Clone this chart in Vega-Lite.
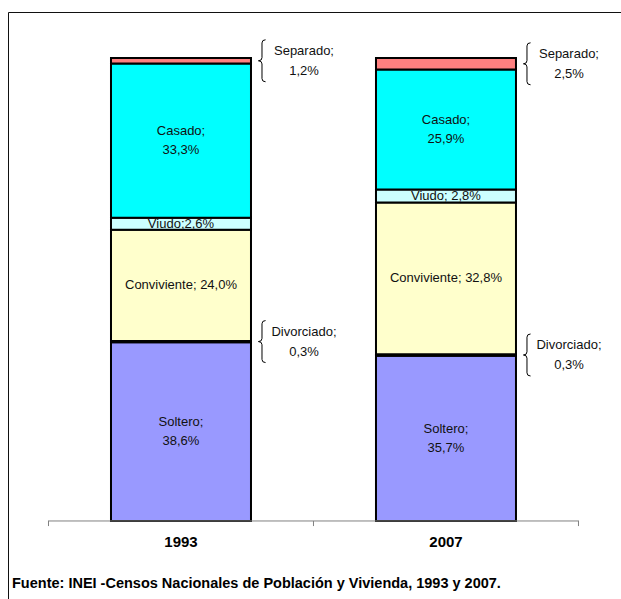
{
  "$schema": "https://vega.github.io/schema/vega-lite/v6.json",
  "width": 620,
  "height": 600,
  "autosize": {"type": "none"},
  "padding": {"left": 8, "top": 12, "right": 0, "bottom": 0},
  "background": "white",
  "config": {
    "view": {"stroke": "#111", "strokeWidth": 1},
    "font": "Liberation Sans Narrow, Arial Narrow, Liberation Sans, sans-serif"
  },
  "title": {
    "text": "Fuente: INEI -Censos Nacionales de Población y Vivienda,  1993 y 2007.",
    "orient": "bottom",
    "anchor": "start",
    "frame": "group",
    "offset": -35,
    "dx": 4,
    "fontSize": 14.5,
    "fontWeight": "bold",
    "color": "#000"
  },
  "data": {
    "values": [
      {"year": "1993", "cat": "Soltero", "pct": 38.6, "orden": 1, "label": "Soltero;\n38,6%", "kind": "in2"},
      {"year": "1993", "cat": "Divorciado", "pct": 0.3, "orden": 2, "label": "Divorciado;\n0,3%", "kind": "out"},
      {"year": "1993", "cat": "Conviviente", "pct": 24.0, "orden": 3, "label": "Conviviente; 24,0%", "kind": "in1"},
      {"year": "1993", "cat": "Viudo", "pct": 2.6, "orden": 4, "label": "Viudo;2,6%", "kind": "in1"},
      {"year": "1993", "cat": "Casado", "pct": 33.3, "orden": 5, "label": "Casado;\n33,3%", "kind": "in2"},
      {"year": "1993", "cat": "Separado", "pct": 1.2, "orden": 6, "label": "Separado;\n1,2%", "kind": "out"},
      {"year": "2007", "cat": "Soltero", "pct": 35.7, "orden": 1, "label": "Soltero;\n35,7%", "kind": "in2"},
      {"year": "2007", "cat": "Divorciado", "pct": 0.3, "orden": 2, "label": "Divorciado;\n0,3%", "kind": "out"},
      {"year": "2007", "cat": "Conviviente", "pct": 32.8, "orden": 3, "label": "Conviviente; 32,8%", "kind": "in1"},
      {"year": "2007", "cat": "Viudo", "pct": 2.8, "orden": 4, "label": "Viudo; 2,8%", "kind": "in1"},
      {"year": "2007", "cat": "Casado", "pct": 25.9, "orden": 5, "label": "Casado;\n25,9%", "kind": "in2"},
      {"year": "2007", "cat": "Separado", "pct": 2.5, "orden": 6, "label": "Separado;\n2,5%", "kind": "out"}
    ]
  },
  "transform": [
    {"stack": "pct", "groupby": ["year"], "sort": [{"field": "orden", "order": "ascending"}], "as": ["y0", "y1"]},
    {"calculate": "(datum.y0 + datum.y1) / 2", "as": "ymid"}
  ],
  "encoding": {
    "x": {
      "field": "year",
      "type": "nominal",
      "sort": ["1993", "2007"],
      "scale": {"type": "band", "paddingInner": 0.4717, "paddingOuter": 0.4057, "align": 0.479},
      "axis": {
        "title": null,
        "labelAngle": 0,
        "offset": -91,
        "domain": false,
        "ticks": false,
        "labelFontSize": 15,
        "labelFontWeight": "bold",
        "labelColor": "#000",
        "labelPadding": 13
      }
    }
  },
  "layer": [
    {
      "mark": {"type": "bar", "stroke": "#000", "strokeWidth": 2},
      "encoding": {
        "y": {"field": "y0", "type": "quantitative", "scale": {"domain": [-19.66, 109.935], "nice": false, "zero": false}, "axis": null},
        "y2": {"field": "y1"},
        "color": {
          "field": "cat",
          "type": "nominal",
          "legend": null,
          "scale": {
            "domain": ["Soltero", "Divorciado", "Conviviente", "Viudo", "Casado", "Separado"],
            "range": ["#9999FF", "#1a1a1a", "#FFFFCC", "#CCFFFF", "#00FFFF", "#FF8080"]
          }
        }
      }
    },
    {
      "data": {"values": [{}]},
      "mark": {"type": "rule", "color": "#808080", "strokeWidth": 1, "xOffset": -133, "x2Offset": 133},
      "encoding": {
        "x": {"datum": "1993"},
        "x2": {"datum": "2007"},
        "y": {"datum": 0}
      }
    },
    {
      "data": {"values": [{"year": "1993"}, {"year": "2007"}]},
      "mark": {"type": "rule", "color": "#808080", "strokeWidth": 1, "xOffset": -132.5},
      "encoding": {
        "y": {"datum": 0},
        "y2": {"datum": -1.1}
      }
    },
    {
      "data": {"values": [{}]},
      "mark": {"type": "rule", "color": "#808080", "strokeWidth": 1, "xOffset": 132.5},
      "encoding": {
        "x": {"datum": "2007"},
        "y": {"datum": 0},
        "y2": {"datum": -1.1}
      }
    },
    {
      "transform": [{"filter": "datum.kind == 'in1'"}],
      "mark": {"type": "text", "fontSize": 13, "baseline": "middle", "color": "#111"},
      "encoding": {
        "y": {"field": "ymid", "type": "quantitative"},
        "text": {"field": "label"}
      }
    },
    {
      "transform": [{"filter": "datum.kind == 'in2'"}],
      "mark": {"type": "text", "lineBreak": "\n", "fontSize": 13, "lineHeight": 19, "baseline": "middle", "color": "#111", "dy": -9.5},
      "encoding": {
        "y": {"field": "ymid", "type": "quantitative"},
        "text": {"field": "label"}
      }
    },
    {
      "transform": [{"filter": "datum.kind == 'out'"}],
      "mark": {"type": "text", "lineBreak": "\n", "fontSize": 13, "lineHeight": 20, "baseline": "middle", "color": "#111", "dx": 123, "dy": -10},
      "encoding": {
        "y": {"field": "ymid", "type": "quantitative"},
        "text": {"field": "label"}
      }
    },
    {
      "transform": [{"filter": "datum.kind == 'out'"}],
      "mark": {
        "type": "point",
        "shape": "M0.17,-1 Q0,-1 0,-0.85 L0,-0.15 Q0,0 -0.17,0 Q0,0 0,0.15 L0,0.85 Q0,1 0.17,1",
        "size": 1764,
        "filled": false,
        "stroke": "#000",
        "strokeWidth": 1,
        "opacity": 1,
        "xOffset": 81
      },
      "encoding": {
        "y": {"field": "ymid", "type": "quantitative"}
      }
    }
  ]
}
